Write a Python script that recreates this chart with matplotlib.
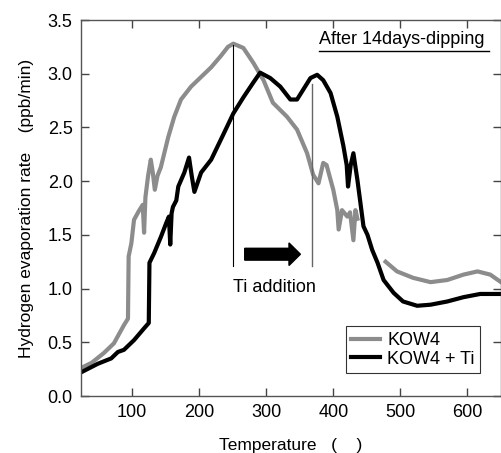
import matplotlib
matplotlib.use("Agg")
import matplotlib.pyplot as plt
import numpy as np

plt.rcParams['font.family'] = ['Liberation Sans', 'DejaVu Sans']

# KOW4 (grey) - gap where the trace is missing
temp_kow4 = [24, 40, 58, 73, 88, 94, 95, 99, 103, 110, 116, 118, 120, 124, 128,
             131, 134, 138, 143, 154, 163, 173, 188, 203, 218, 233, 243, 251,
             266, 281, 296, 310, 331, 346, 361, 370, 378, 385, 390, 400, 406,
             408, 413, 421, 425, 430, 433, 436, np.nan,
             478, 495, 519, 545, 570, 594, 615, 634, 650]
rate_kow4 = [0.26, 0.31, 0.40, 0.49, 0.66, 0.72, 1.30, 1.42, 1.64, 1.72, 1.78,
             1.52, 1.85, 2.05, 2.20, 2.08, 1.92, 2.05, 2.13, 2.41, 2.60, 2.76,
             2.88, 2.97, 3.06, 3.17, 3.25, 3.28, 3.24, 3.10, 2.94, 2.73, 2.60,
             2.48, 2.26, 2.06, 1.98, 2.17, 2.15, 1.92, 1.73, 1.55, 1.73, 1.67,
             1.71, 1.45, 1.73, 1.65, np.nan,
             1.25, 1.16, 1.10, 1.06, 1.08, 1.13, 1.16, 1.13, 1.06]

# KOW4 + Ti (black)
temp_ti = [24, 49, 69, 79, 88, 103, 118, 125, 126, 133, 143, 151, 155, 157,
           159, 161, 166, 169, 178, 185, 189, 193, 203, 218, 235, 251, 266,
           281, 291, 306, 321, 336, 346, 355, 366, 376, 385, 396, 406, 415,
           420, 422, 426, 430, 436, 440, 445, 451, 458, 466, 475, 490, 504,
           525, 545, 570, 594, 619, 650]
rate_ti = [0.22, 0.30, 0.35, 0.41, 0.43, 0.52, 0.63, 0.68, 1.24, 1.33, 1.48,
           1.61, 1.67, 1.41, 1.70, 1.76, 1.82, 1.95, 2.08, 2.22, 2.05, 1.90,
           2.08, 2.20, 2.42, 2.63, 2.78, 2.92, 3.01, 2.96, 2.88, 2.76, 2.76,
           2.85, 2.96, 2.99, 2.94, 2.82, 2.60, 2.33, 2.15, 1.95, 2.15, 2.26,
           2.01, 1.82, 1.58, 1.50, 1.36, 1.24, 1.08, 0.96, 0.88, 0.84, 0.85,
           0.88, 0.92, 0.95, 0.95]

xticks = [100, 200, 300, 400, 500, 600]
yticks = [0.0, 0.5, 1.0, 1.5, 2.0, 2.5, 3.0, 3.5]

fig = plt.figure(figsize=(5.01, 4.53), dpi=100)
ax = fig.add_axes([0.1617, 0.1258, 0.8383, 0.83])

ax.plot(temp_kow4, rate_kow4, color='#8c8c8c', lw=3.0, label='KOW4',
        solid_joinstyle='round')
ax.plot(temp_ti, rate_ti, color='black', lw=3.0, label='KOW4 + Ti',
        solid_joinstyle='round')

# Ti addition markers
ax.plot([251, 251], [1.21, 3.27], color='black', lw=0.8)
ax.plot([369, 369], [1.21, 2.90], color='#666666', lw=1.0)
ax.arrow(268, 1.32, 83, 0, width=0.11, head_width=0.21, head_length=17,
         length_includes_head=True, color='black')
ax.text(312, 1.01, 'Ti addition', fontsize=13, ha='center', va='center')

# top-right note with underline
ax.text(0.567, 0.947, 'After 14days-dipping', fontsize=13, ha='left',
        va='center', transform=ax.transAxes)
ax.plot([0.567, 0.971], [0.918, 0.918], color='black', lw=1.0,
        transform=ax.transAxes, clip_on=False)

ax.set_xlim(24, 650)
ax.set_ylim(0, 3.5)
ax.set_xticks(xticks)
ax.set_yticks(yticks)
ax.set_yticklabels(['%.1f' % v for v in yticks])
ax.tick_params(direction='in', top=True, right=True, length=6, width=1,
               labelsize=13, color='#444444', pad=6)
for s in ax.spines.values():
    s.set_color('#555555')
    s.set_linewidth(1.0)

ax.set_xlabel('Temperature   (    )', fontsize=12.5, labelpad=12)
ax.set_ylabel('Hydrogen evaporation rate    (ppb/min)', fontsize=12.5,
              labelpad=10)

leg = ax.legend(loc='lower right', bbox_to_anchor=(0.95, 0.061),
                fontsize=13, frameon=True, fancybox=False, handlelength=1.6,
                handletextpad=0.4, borderpad=0.3, labelspacing=0.1,
                borderaxespad=0)
leg.get_frame().set_edgecolor('black')
leg.get_frame().set_linewidth(0.8)

fig.savefig('out.png', dpi=100)
